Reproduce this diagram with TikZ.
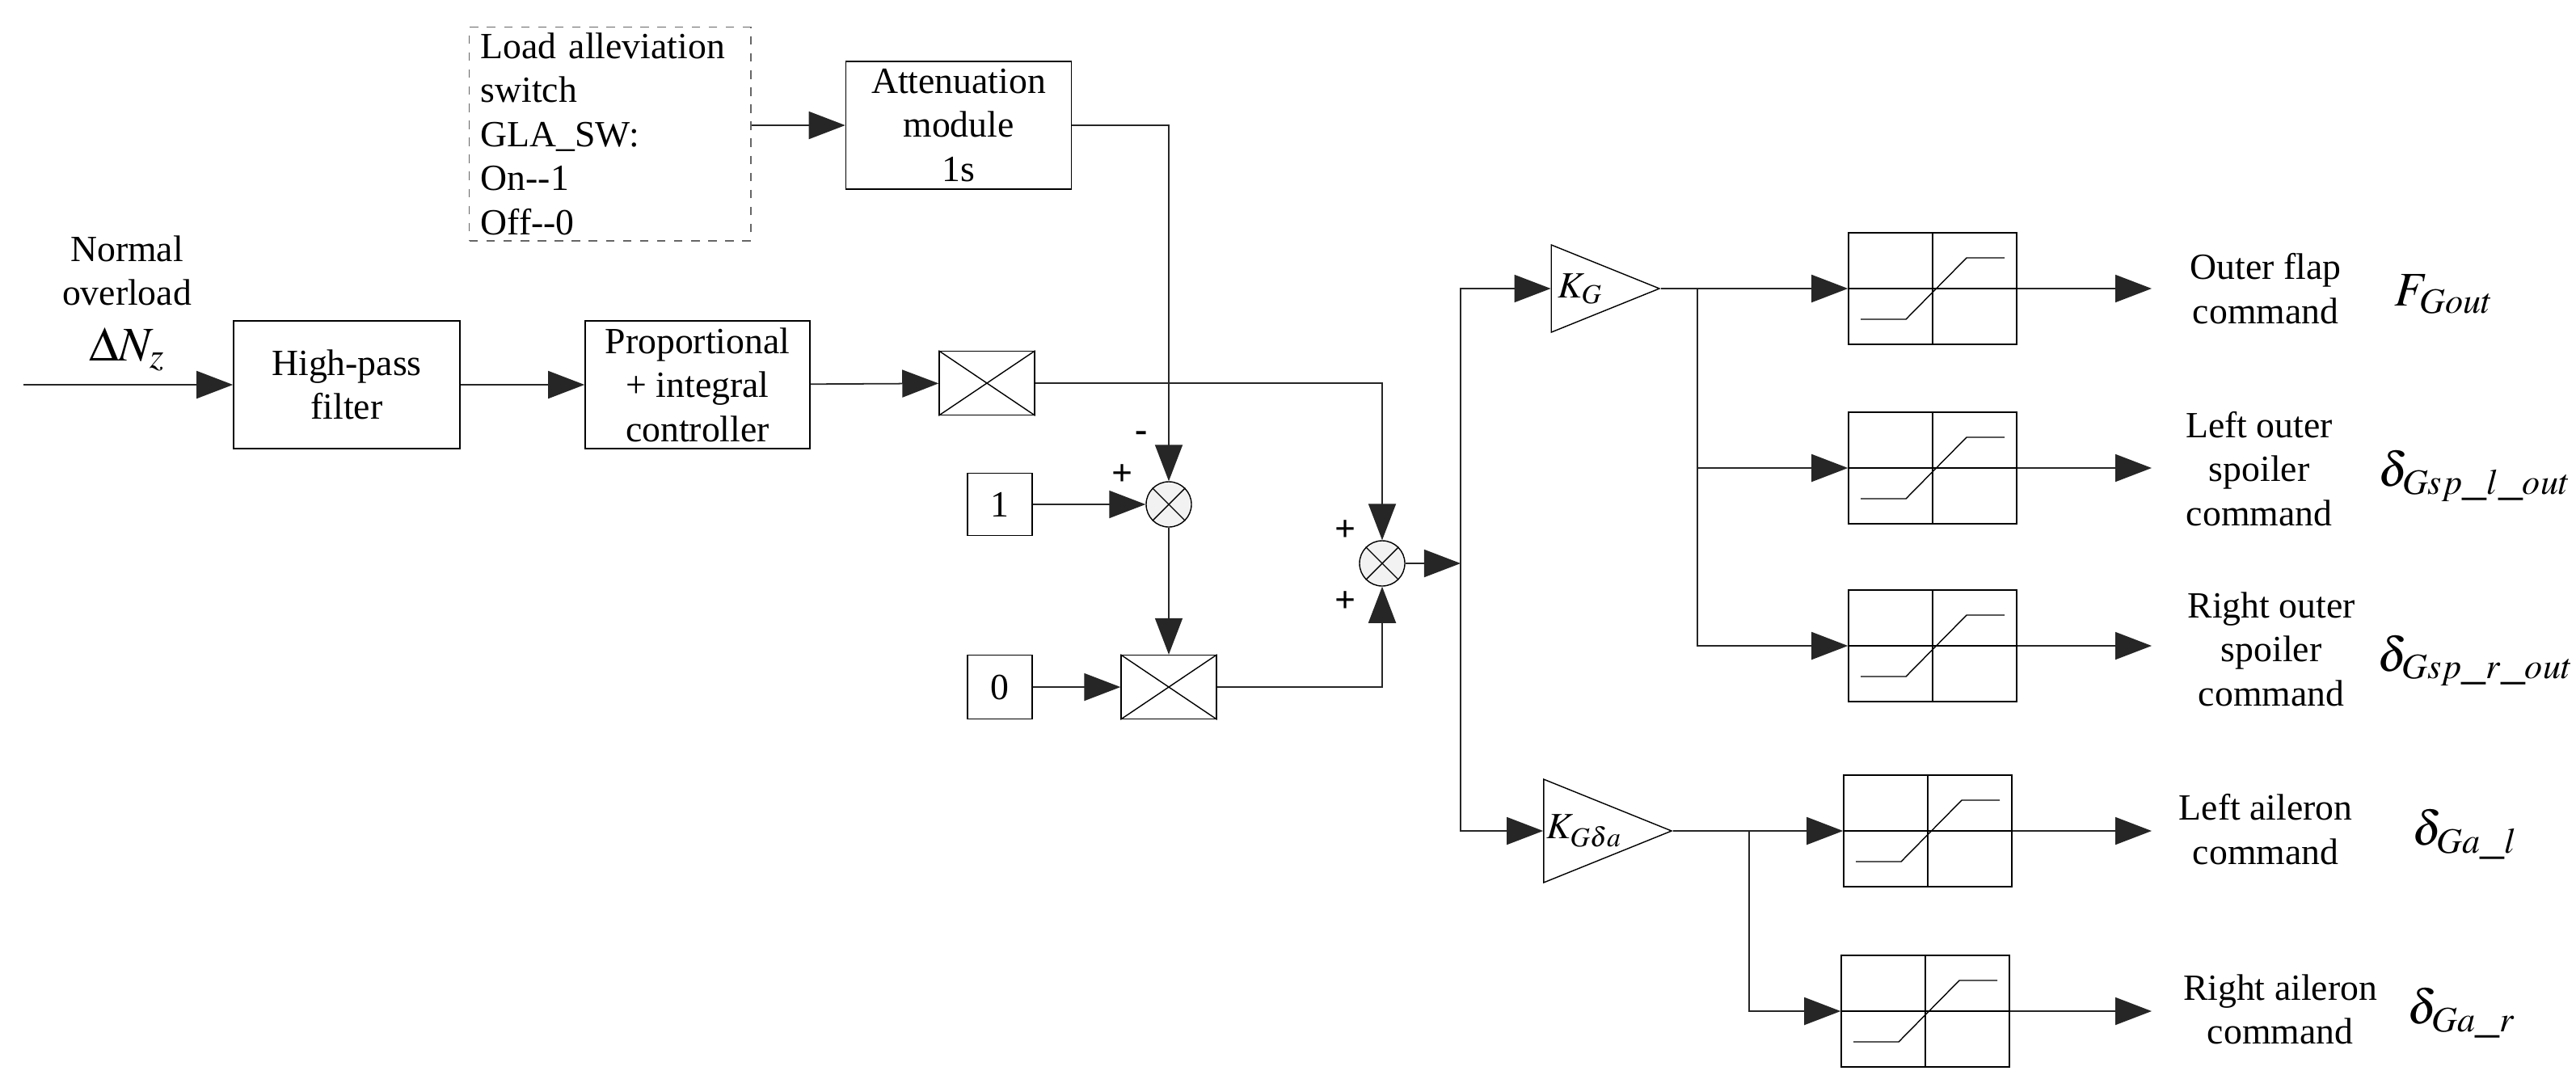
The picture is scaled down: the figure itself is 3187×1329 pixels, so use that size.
\documentclass[tikz,border=0pt]{standalone}
\usepackage{mathptmx}
\usepackage{fontspec}
\setmainfont{Liberation Serif}
\usetikzlibrary{arrows.meta,positioning,shapes.geometric,calc}

\begin{document}
\begin{tikzpicture}[
            x = 0.01cm, y = -0.01cm, % one unit per pixel, y down
            > = {Triangle[length=4.5mm,width=3.4mm]},
            line width = 0.5pt,
            font = \fontsize{13}{15.5}\selectfont
        ]

        \tikzstyle{block}=[
            draw = black,
            thin,
            fill = white,
            align = center,
            inner sep = 2pt
        ]
        \tikzstyle{mult}=[block, minimum width = 1.18cm, minimum height = 0.79cm]
        \tikzstyle{sum}=[draw, circle, thin, fill = gray!10, minimum size = 0.56cm, inner sep = 0pt]
        \tikzstyle{gain}=[draw, thin, fill = white, isosceles triangle, isosceles triangle apex angle = 44,
            minimum height = 1.08cm, inner sep = 1pt]
        \tikzstyle{sat}=[block, minimum width = 2.08cm, minimum height = 1.38cm]
        \tikzstyle{wire}=[draw = black!85, ->]
        \tikzstyle{big}=[font = \fontsize{17}{20}\selectfont]

        \useasboundingbox (0,0) rectangle (3187,1329);

        % switch and attenuation
        \node[block, dashed, draw = black!60, minimum width = 3.48cm, minimum height = 2.62cm,
            anchor = north west, align = left, text width = 3.2cm] (sw) at (580,33)
            {Load alleviation\\switch\\GLA\_SW:\\On-{}-1\\Off-{}-0};
        \node[block, minimum width = 2.79cm, minimum height = 1.58cm] (att) at (1186,155)
            {Attenuation\\module\\1s};

        % main path
        \node[align = center] (nz) at (157,335) {Normal\\overload};
        \node[big] (dnz) at (157,432) {$\Delta N_z$};
        \coordinate (in) at (29,476);
        \node[block, minimum width = 2.8cm, minimum height = 1.58cm] (hpf) at (429,476) {High-pass\\filter};
        \node[block, minimum width = 2.78cm, minimum height = 1.58cm] (pi) at (863,476)
            {Proportional\\+ integral\\controller};
        \node[mult] (prod1) at (1221,474) {};
        \node[sum] (sum1) at (1446,624) {};
        \node[block, minimum width = 0.8cm, minimum height = 0.77cm] (one) at (1237,624) {1};
        \node[block, minimum width = 0.8cm, minimum height = 0.79cm] (zero) at (1237,850) {0};
        \node[mult] (prod2) at (1446,850) {};
        \node[sum] (sum2) at (1710,697) {};
        \coordinate (bus) at (1807,697);

        \node at (1412,540) {\bfseries -};
        \node at (1389,588) {\bfseries +};
        \node at (1665,657) {\bfseries +};
        \node at (1665,745) {\bfseries +};

        % gains
        \node[gain, minimum width = 1.08cm] (kg) at (1955,357) {$K_G$};
        \node[gain, minimum width = 1.18cm] (kga) at (1960,1028) {$K_{G\delta a}$};
        \coordinate (br1) at (2100,357);
        \coordinate (br2) at (2164,1028);

        % saturation blocks
        \node[sat] (sat1) at (2391,357) {};
        \node[sat] (sat2) at (2391,579) {};
        \node[sat] (sat3) at (2391,799) {};
        \node[sat] (sat4) at (2385,1028) {};
        \node[sat] (sat5) at (2382,1251) {};
        \foreach \s in {sat1,sat2,sat3,sat4,sat5} {
            \draw[thin] (\s.north) -- (\s.south);
            \draw[thin] (\s.west) -- (\s.east);
            \draw[thin] ($(\s.center)+(-89,38)$) -- ($(\s.center)+(-33,38)$)
                -- ($(\s.center)+(42,-38)$) -- ($(\s.center)+(89,-38)$);
            \coordinate (\s-out) at (2662,0 |- \s.east);
        }

        % outputs
        \node[align = center] (l1) at (2803,357) {Outer flap\\command};
        \node[align = center] (l2) at (2795,580) {Left outer\\spoiler\\command};
        \node[align = center] (l3) at (2810,803) {Right outer\\spoiler\\command};
        \node[align = center] (l4) at (2803,1026) {Left aileron\\command};
        \node[align = center] (l5) at (2821,1249) {Right aileron\\command};
        \node[big, anchor = west] (m1) at (2950,364) {$F_{Gout}$};
        \node[big, anchor = east, inner xsep = 0pt] (m2) at (3182,589) {$\delta_{Gsp\_l\_out}$};
        \node[big, anchor = east, inner xsep = 0pt] (m3) at (3185,817) {$\delta_{Gsp\_r\_out}$};
        \node[big, anchor = west] (m4) at (2972,1032) {$\delta_{Ga\_l}$};
        \node[big, anchor = west] (m5) at (2966,1253) {$\delta_{Ga\_r}$};

        \foreach \p in {prod1,prod2} {
            \draw[thin] (\p.north west) -- (\p.south east);
            \draw[thin] (\p.south west) -- (\p.north east);
        }
        \foreach \c in {sum1,sum2} {
            \draw[thin] (\c.north west) -- (\c.south east);
            \draw[thin] (\c.south west) -- (\c.north east);
        }

        \draw[wire] (sw.east |- att) -- (att);
        \draw[wire] (in) -- (hpf);
        \draw[wire] (hpf) -- (pi);
        \draw[wire] (pi) -- (prod1);
        \draw[wire] (att.east) -| (sum1.north);
        \draw[wire] (one) -- (sum1);
        \draw[wire] (sum1) -- (prod2);
        \draw[wire] (zero) -- (prod2);
        \draw[wire] (prod1.east) -| (sum2.north);
        \draw[wire] (prod2.east) -| (sum2.south);
        \draw[wire] (sum2) -- (bus);
        \draw[wire] (bus) |- (kg.west);
        \draw[wire] (bus) |- (kga.west);
        \draw[wire] (kg.east) -- (sat1);
        \draw[wire] (br1) |- (sat2);
        \draw[wire] (br1) |- (sat3);
        \draw[wire] (kga.east) -- (sat4);
        \draw[wire] (br2) |- (sat5);
        \foreach \s in {sat1,sat2,sat3,sat4,sat5}
            \draw[wire] (\s.east) -- (\s-out);

    \end{tikzpicture}
\end{document}
